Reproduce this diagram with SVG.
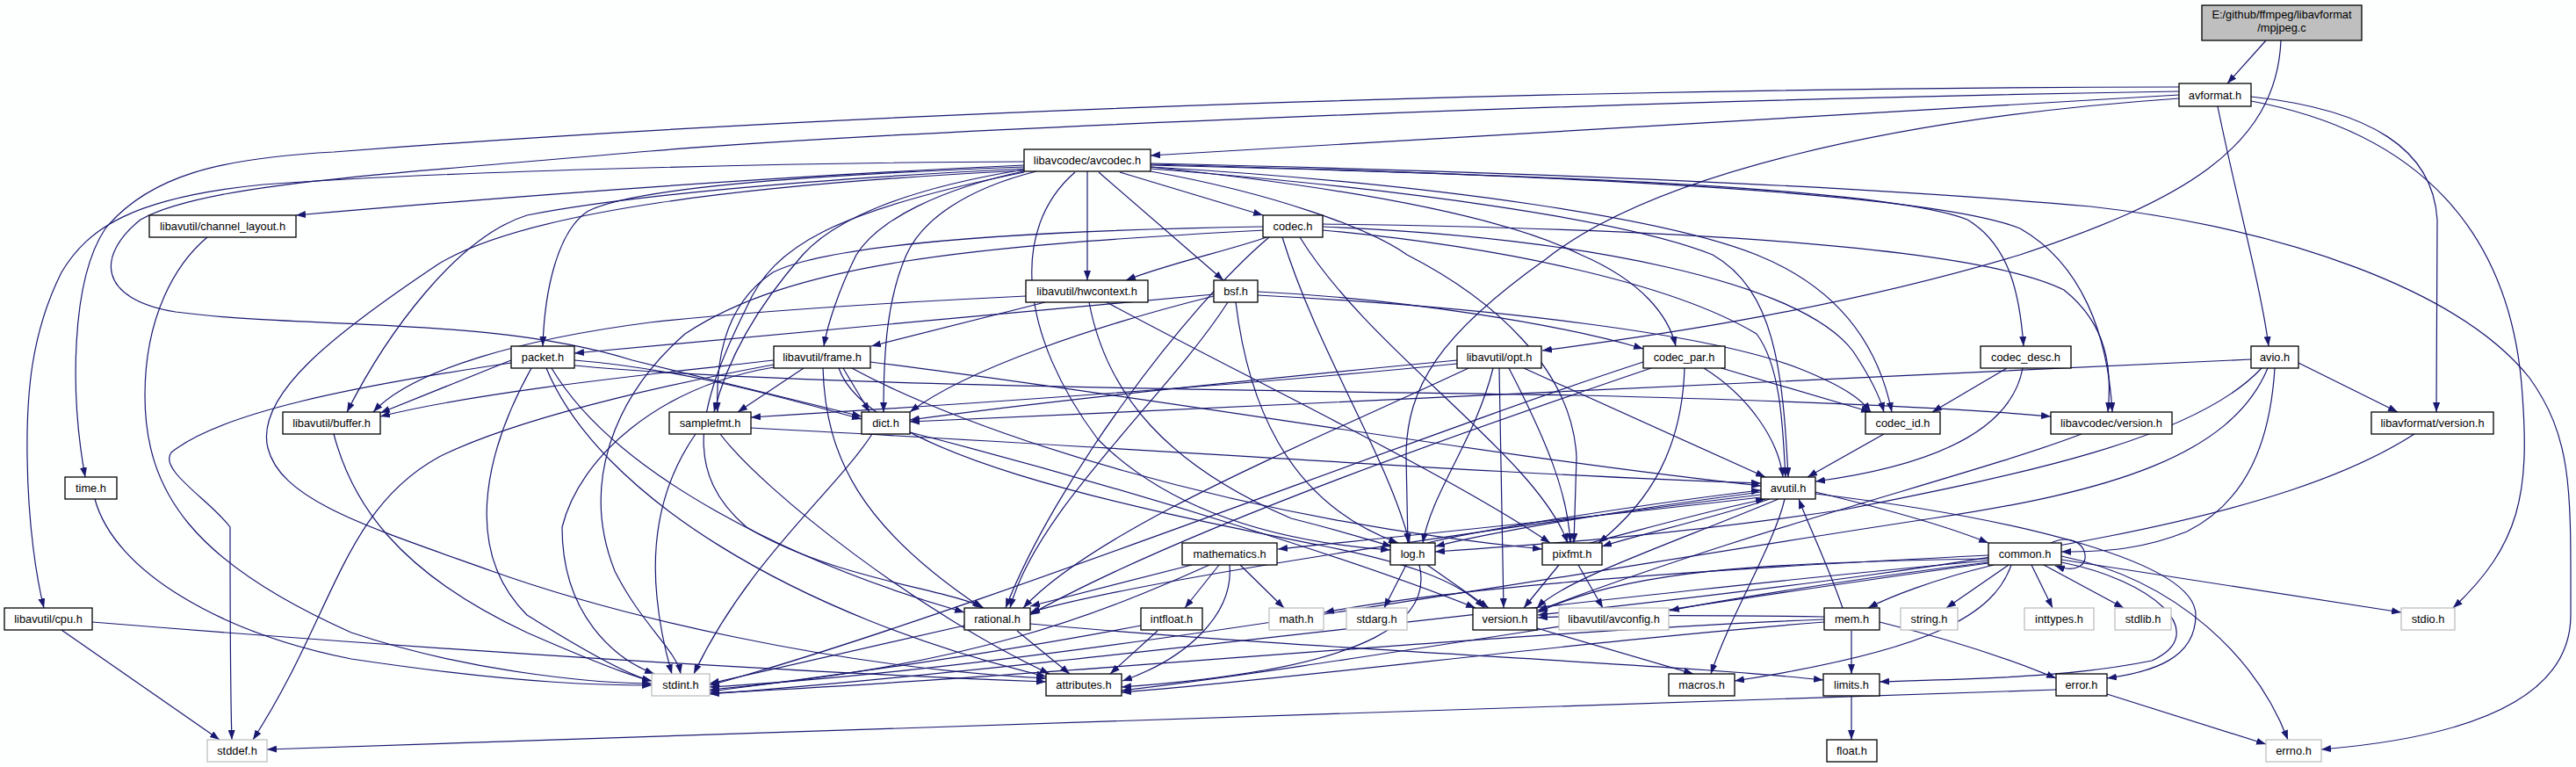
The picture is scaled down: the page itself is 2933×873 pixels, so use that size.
<svg xmlns="http://www.w3.org/2000/svg" width="2933" height="873" viewBox="0 0 2933 873">
<defs>
<marker id="a" markerUnits="userSpaceOnUse" markerWidth="11" markerHeight="8" viewBox="0 0 11 8" refX="11" refY="4" orient="auto"><path d="M0,0 L11,4 L0,8 z" fill="#191970"/></marker>
<style>
.node rect{fill:#ffffff;stroke:#000000;stroke-width:1.3}
.node.sys rect{stroke:#bfbfbf}
.node.root rect{fill:#bfbfbf}
.node text{font-family:"Liberation Sans",Arial,sans-serif;font-size:12.8px;text-anchor:middle;fill:#000}
#edges path{fill:none;stroke:#191970;stroke-width:1.2;marker-end:url(#a)}
</style>
</defs>
<rect width="2933" height="873" fill="#fdfefe"/>
<g id="edges">
<path d="M2580,46 L2536,95"/>
<path d="M2597,46 C2592,170 2480,230 2300,290 C2100,350 1900,380 1756,399"/>
<path d="M2481,99 C1800,100 1000,125 380,173 C250,180 170,200 120,260 C80,320 80,450 97,543"/>
<path d="M2481,104 C1800,115 1000,150 740,172 C420,200 230,210 160,250 C110,290 110,340 200,355 C350,375 560,360 720,410 L981,474"/>
<path d="M2481,108 L1310,177"/>
<path d="M2481,112 C2150,135 1880,200 1760,295 C1640,380 1601,440 1601,520 L1603,618"/>
<path d="M2563,110 C2700,125 2770,170 2775,250 L2774,469"/>
<path d="M2563,115 C2750,150 2860,260 2872,450 C2880,560 2870,620 2793,692"/>
<path d="M2525,121 C2545,220 2575,330 2583,394"/>
<path d="M1310,186 C1700,195 2100,210 2380,235 C2600,260 2800,330 2880,430 C2930,500 2927,560 2927,700 C2927,800 2800,840 2643,853"/>
<path d="M1166,184 C900,185 500,195 300,210 C150,225 100,260 70,310 C35,380 30,450 31,520 C32,600 42,660 50,692"/>
<path d="M1166,188 C900,200 600,222 337,245"/>
<path d="M1166,190 C900,200 720,215 670,240 C635,262 620,330 618,394"/>
<path d="M1166,192 C900,205 700,225 600,245 C520,270 440,380 395,469"/>
<path d="M1166,194 C850,210 600,240 500,300 C380,380 290,450 305,510 C320,570 420,600 560,650 C700,700 950,760 1191,772"/>
<path d="M1166,193 C1030,215 950,250 914,290 C870,340 830,400 813,469"/>
<path d="M1170,194 C1070,215 1000,250 975,290 C955,330 942,370 938,394"/>
<path d="M1180,195 C1100,215 1050,250 1032,290 C1010,340 1006,400 1006,469"/>
<path d="M1166,196 C950,240 880,280 850,350 C790,470 780,540 850,600 C950,660 1080,670 1120,692"/>
<path d="M1238,195 L1238,319"/>
<path d="M1224,196 C1150,260 1160,380 1250,500 C1350,600 1500,620 1583,626"/>
<path d="M1251,196 L1393,319"/>
<path d="M1275,196 L1438,245"/>
<path d="M1310,195 C1450,220 1560,260 1602,290 C1700,340 1790,420 1795,520 L1792,618"/>
<path d="M1310,190 C1500,210 1700,240 1800,290 C1870,320 1900,360 1908,394"/>
<path d="M1310,192 C1600,215 1850,250 1950,290 C2020,330 2030,420 2036,543"/>
<path d="M1310,190 C1650,210 1900,250 2000,290 C2100,330 2140,400 2154,469"/>
<path d="M1310,188 C1800,200 2150,215 2240,250 C2290,280 2300,340 2304,394"/>
<path d="M1310,187 C1800,200 2200,220 2300,260 C2370,300 2400,380 2405,469"/>
<path d="M1442,270 C1400,285 1330,300 1282,319"/>
<path d="M1438,258 C1200,262 950,275 880,310 C820,350 815,420 817,469"/>
<path d="M1440,262 C1100,280 900,300 780,380 C700,450 660,550 700,650 C730,710 770,740 775,767"/>
<path d="M1445,270 C1350,350 1200,550 1145,692"/>
<path d="M1460,270 C1500,400 1580,520 1605,618"/>
<path d="M1480,270 C1560,400 1750,520 1785,618"/>
<path d="M1506,262 C1700,280 1900,320 2000,380 C2030,420 2030,500 2033,543"/>
<path d="M1506,258 C1800,270 2050,320 2110,400 C2130,430 2140,450 2145,469"/>
<path d="M1506,255 C1900,260 2250,280 2350,330 C2400,370 2405,420 2400,469"/>
<path d="M1382,337 C1250,370 1100,420 1036,469"/>
<path d="M1382,335 C1100,360 850,385 654,402"/>
<path d="M1398,344 C1330,450 1180,580 1150,692"/>
<path d="M1407,344 C1420,450 1460,570 1592,618"/>
<path d="M1432,332 C1600,340 1780,370 1871,397"/>
<path d="M1432,336 C1700,350 1950,380 2050,420 C2100,440 2120,455 2130,469"/>
<path d="M1168,337 C1000,345 850,355 740,367 C600,385 470,420 425,469"/>
<path d="M1190,344 L992,394"/>
<path d="M1240,344 C1260,450 1330,530 1470,590 C1530,605 1560,615 1585,622"/>
<path d="M1260,344 C1400,420 1650,540 1765,618"/>
<path d="M582,410 L433,470"/>
<path d="M654,410 C780,420 900,455 981,477"/>
<path d="M654,416 C900,440 1500,445 1800,450 C2000,455 2200,462 2335,474"/>
<path d="M628,419 C700,540 900,640 1098,697"/>
<path d="M622,419 C680,560 900,700 1191,770"/>
<path d="M605,419 C560,500 520,620 600,700 C680,750 720,770 742,775"/>
<path d="M582,413 C400,440 250,470 195,515 C180,535 240,570 262,600 C262,680 262,780 264,842"/>
<path d="M881,410 C750,425 550,445 433,474"/>
<path d="M915,419 L840,469"/>
<path d="M960,419 L990,469"/>
<path d="M881,415 C800,430 600,470 500,520 C390,580 380,700 288,842"/>
<path d="M881,418 C750,440 660,520 640,600 C640,700 700,750 745,767"/>
<path d="M937,419 C940,520 980,600 1118,692"/>
<path d="M991,412 C1300,450 1700,520 2005,553"/>
<path d="M970,419 C1100,490 1400,590 1756,625"/>
<path d="M955,419 C990,520 1300,580 1500,620 C1600,640 1660,660 1690,692"/>
<path d="M1659,410 C1450,430 1200,455 1036,478"/>
<path d="M1659,414 C1400,440 1100,460 855,475"/>
<path d="M1672,419 C1500,500 1250,600 1165,692"/>
<path d="M1700,419 C1680,500 1630,560 1620,618"/>
<path d="M1707,419 L1712,692"/>
<path d="M1718,419 C1760,500 1785,560 1788,618"/>
<path d="M1735,419 L2010,543"/>
<path d="M1960,419 L2130,469"/>
<path d="M1940,419 C1990,450 2025,500 2030,543"/>
<path d="M1918,419 C1915,510 1880,570 1820,618"/>
<path d="M1880,419 C1700,480 1350,600 1172,700"/>
<path d="M1871,412 C1600,500 1100,700 808,780"/>
<path d="M2285,419 L2200,469"/>
<path d="M2303,419 C2290,490 2200,530 2067,548"/>
<path d="M2145,494 L2058,543"/>
<path d="M2563,409 C2200,425 1600,455 1036,480"/>
<path d="M2617,413 L2730,469"/>
<path d="M2590,419 C2585,500 2560,570 2490,605 C2440,625 2400,628 2347,628"/>
<path d="M2575,419 C2500,500 2300,540 2100,580 C1900,610 1750,620 1634,628"/>
<path d="M2582,419 C2540,520 2400,560 2200,590 C1800,650 1200,760 808,782"/>
<path d="M380,494 C400,570 450,650 600,720 C680,755 720,770 742,775"/>
<path d="M792,494 C760,540 740,600 748,680 C752,720 760,750 765,767"/>
<path d="M820,494 C870,560 1050,700 1195,767"/>
<path d="M855,487 C1300,510 1700,540 2005,550"/>
<path d="M993,494 C950,560 850,640 790,767"/>
<path d="M1036,492 C1300,560 1550,640 1680,692"/>
<path d="M2370,494 C2250,540 2000,600 1751,695"/>
<path d="M2749,494 C2600,590 2300,640 1751,700"/>
<path d="M108,568 C130,650 250,720 400,750 C600,780 700,780 742,780"/>
<path d="M236,270 C200,300 165,360 165,450 C165,560 220,640 400,720 C550,770 700,778 742,778"/>
<path d="M70,717 L250,842"/>
<path d="M105,708 C500,740 900,765 1191,776"/>
<path d="M2067,560 C2150,580 2220,600 2264,618"/>
<path d="M2005,566 C1800,590 1550,615 1455,625"/>
<path d="M2005,560 C1850,580 1700,605 1634,622"/>
<path d="M2015,568 C1950,590 1860,610 1824,622"/>
<path d="M2025,568 C1900,620 1780,660 1750,692"/>
<path d="M2005,563 C1700,600 1300,660 1173,697"/>
<path d="M2032,568 C2020,620 1970,700 1948,767"/>
<path d="M2067,562 C2300,590 2500,640 2500,700 C2500,750 2450,765 2399,772"/>
<path d="M1357,643 L1173,690"/>
<path d="M1388,643 L1349,692"/>
<path d="M1412,643 L1462,692"/>
<path d="M1400,643 C1405,700 1350,750 1278,775"/>
<path d="M1377,643 C1250,700 1100,760 808,785"/>
<path d="M1318,718 L1264,767"/>
<path d="M1299,712 C1100,750 900,775 808,787"/>
<path d="M1601,643 L1576,692"/>
<path d="M1625,643 L1695,692"/>
<path d="M1616,643 C1630,700 1580,760 1277,782"/>
<path d="M1625,618 C1700,600 1900,570 2005,558"/>
<path d="M1775,643 L1735,692"/>
<path d="M1797,643 L1825,692"/>
<path d="M1810,618 C1880,600 1950,580 2010,568"/>
<path d="M2287,643 L2216,692"/>
<path d="M2313,643 L2337,692"/>
<path d="M2327,643 L2418,692"/>
<path d="M2347,637 L2734,697"/>
<path d="M2347,633 C2480,660 2570,750 2605,842"/>
<path d="M2270,643 C2200,660 2150,680 2127,692"/>
<path d="M2264,640 C2100,660 1950,685 1901,695"/>
<path d="M2264,636 C2000,640 1850,650 1751,697"/>
<path d="M2264,632 C1900,650 1650,670 1508,697"/>
<path d="M2264,638 C1800,680 1200,760 808,790"/>
<path d="M2264,641 C1900,690 1500,760 1277,786"/>
<path d="M2290,643 C2270,700 2200,740 1975,775"/>
<path d="M2347,640 C2450,660 2520,720 2450,752 C2350,772 2250,772 2140,776"/>
<path d="M2335,618 C2380,598 2392,662 2340,644"/>
<path d="M1158,718 L1218,767"/>
<path d="M1098,712 L808,778"/>
<path d="M1173,710 C1500,740 1900,755 2076,774"/>
<path d="M1750,715 L1928,767"/>
<path d="M2108,718 L2108,767"/>
<path d="M2098,692 C2080,640 2060,600 2048,568"/>
<path d="M2140,708 C2230,730 2300,755 2341,772"/>
<path d="M2077,705 C1700,720 1200,770 808,789"/>
<path d="M2077,708 C1800,730 1500,770 1277,788"/>
<path d="M2077,702 C1950,700 1800,700 1751,703"/>
<path d="M2108,793 L2108,842"/>
<path d="M2399,790 L2580,847"/>
<path d="M2341,785 C1600,805 900,830 304,853"/>
</g>
<g id="n_mpjpeg" class="node root"><rect x="2507" y="6" width="182" height="40"/><text x="2598" y="21">E:/github/ffmpeg/libavformat</text><text x="2598" y="36">/mpjpeg.c</text></g>
<g id="n_avformat" class="node"><rect x="2481" y="95" width="82" height="26"/><text x="2522" y="112.5">avformat.h</text></g>
<g id="n_avcodec" class="node"><rect x="1166" y="170" width="144" height="25"/><text x="1238" y="187">libavcodec/avcodec.h</text></g>
<g id="n_channel_layout" class="node"><rect x="170" y="245" width="167" height="25"/><text x="253.5" y="262">libavutil/channel_layout.h</text></g>
<g id="n_codec" class="node"><rect x="1438" y="245" width="68" height="25"/><text x="1472" y="262">codec.h</text></g>
<g id="n_hwcontext" class="node"><rect x="1168" y="319" width="139" height="25"/><text x="1237.5" y="336">libavutil/hwcontext.h</text></g>
<g id="n_bsf" class="node"><rect x="1382" y="319" width="50" height="25"/><text x="1407" y="336">bsf.h</text></g>
<g id="n_packet" class="node"><rect x="582" y="394" width="72" height="25"/><text x="618" y="411">packet.h</text></g>
<g id="n_frame" class="node"><rect x="881" y="394" width="110" height="25"/><text x="936" y="411">libavutil/frame.h</text></g>
<g id="n_opt" class="node"><rect x="1659" y="394" width="96" height="25"/><text x="1707" y="411">libavutil/opt.h</text></g>
<g id="n_codec_par" class="node"><rect x="1871" y="394" width="93" height="25"/><text x="1917.5" y="411">codec_par.h</text></g>
<g id="n_codec_desc" class="node"><rect x="2255" y="394" width="103" height="25"/><text x="2306.5" y="411">codec_desc.h</text></g>
<g id="n_avio" class="node"><rect x="2563" y="394" width="54" height="25"/><text x="2590" y="411">avio.h</text></g>
<g id="n_buffer" class="node"><rect x="322" y="469" width="111" height="25"/><text x="377.5" y="486">libavutil/buffer.h</text></g>
<g id="n_samplefmt" class="node"><rect x="762" y="469" width="93" height="25"/><text x="808.5" y="486">samplefmt.h</text></g>
<g id="n_dict" class="node"><rect x="981" y="469" width="55" height="25"/><text x="1008.5" y="486">dict.h</text></g>
<g id="n_codec_id" class="node"><rect x="2124" y="469" width="85" height="25"/><text x="2166.5" y="486">codec_id.h</text></g>
<g id="n_lavc_version" class="node"><rect x="2335" y="469" width="138" height="25"/><text x="2404" y="486">libavcodec/version.h</text></g>
<g id="n_lavf_version" class="node"><rect x="2700" y="469" width="139" height="25"/><text x="2769.5" y="486">libavformat/version.h</text></g>
<g id="n_time" class="node"><rect x="74" y="543" width="59" height="25"/><text x="103.5" y="560">time.h</text></g>
<g id="n_avutil" class="node"><rect x="2005" y="543" width="62" height="25"/><text x="2036" y="560">avutil.h</text></g>
<g id="n_cpu" class="node"><rect x="5" y="692" width="100" height="25"/><text x="55" y="709">libavutil/cpu.h</text></g>
<g id="n_stddef" class="node sys"><rect x="236" y="842" width="68" height="25"/><text x="270" y="859">stddef.h</text></g>
<g id="n_mathematics" class="node"><rect x="1346" y="618" width="108" height="25"/><text x="1400" y="635">mathematics.h</text></g>
<g id="n_rational" class="node"><rect x="1098" y="692" width="75" height="25"/><text x="1135.5" y="709">rational.h</text></g>
<g id="n_intfloat" class="node"><rect x="1299" y="692" width="70" height="25"/><text x="1334" y="709">intfloat.h</text></g>
<g id="n_math" class="node sys"><rect x="1445" y="692" width="62" height="25"/><text x="1476" y="709">math.h</text></g>
<g id="n_stdint" class="node sys"><rect x="742" y="767" width="66" height="25"/><text x="775" y="784">stdint.h</text></g>
<g id="n_attributes" class="node"><rect x="1191" y="767" width="86" height="25"/><text x="1234" y="784">attributes.h</text></g>
<g id="n_log" class="node"><rect x="1583" y="618" width="51" height="25"/><text x="1608.5" y="635">log.h</text></g>
<g id="n_pixfmt" class="node"><rect x="1756" y="618" width="68" height="25"/><text x="1790" y="635">pixfmt.h</text></g>
<g id="n_stdarg" class="node sys"><rect x="1533" y="692" width="69" height="25"/><text x="1567.5" y="709">stdarg.h</text></g>
<g id="n_version" class="node"><rect x="1677" y="692" width="73" height="25"/><text x="1713.5" y="709">version.h</text></g>
<g id="n_avconfig" class="node sys"><rect x="1775" y="692" width="125" height="25"/><text x="1837.5" y="709">libavutil/avconfig.h</text></g>
<g id="n_mem" class="node"><rect x="2077" y="692" width="63" height="25"/><text x="2108.5" y="709">mem.h</text></g>
<g id="n_string" class="node sys"><rect x="2164" y="692" width="65" height="25"/><text x="2196.5" y="709">string.h</text></g>
<g id="n_macros" class="node"><rect x="1900" y="767" width="75" height="25"/><text x="1937.5" y="784">macros.h</text></g>
<g id="n_limits" class="node"><rect x="2076" y="767" width="64" height="25"/><text x="2108" y="784">limits.h</text></g>
<g id="n_float" class="node"><rect x="2080" y="842" width="57" height="25"/><text x="2108.5" y="859">float.h</text></g>
<g id="n_common" class="node"><rect x="2264" y="618" width="83" height="25"/><text x="2305.5" y="635">common.h</text></g>
<g id="n_inttypes" class="node sys"><rect x="2305" y="692" width="79" height="25"/><text x="2344.5" y="709">inttypes.h</text></g>
<g id="n_stdlib" class="node sys"><rect x="2408" y="692" width="64" height="25"/><text x="2440" y="709">stdlib.h</text></g>
<g id="n_stdio" class="node sys"><rect x="2734" y="692" width="61" height="25"/><text x="2764.5" y="709">stdio.h</text></g>
<g id="n_error" class="node"><rect x="2341" y="767" width="58" height="25"/><text x="2370" y="784">error.h</text></g>
<g id="n_errno" class="node sys"><rect x="2580" y="842" width="63" height="25"/><text x="2611.5" y="859">errno.h</text></g>
</svg>
